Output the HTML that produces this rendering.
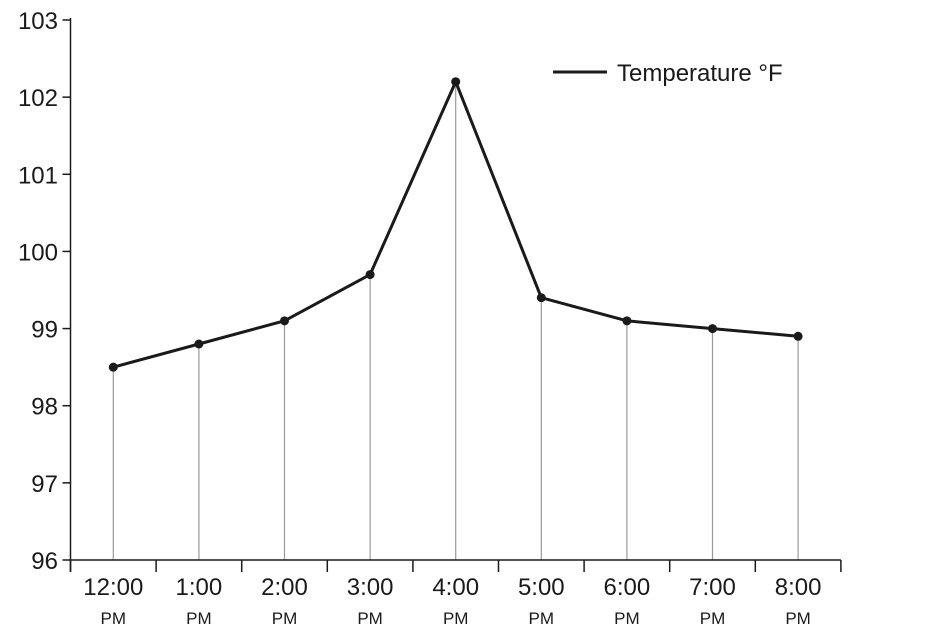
<!DOCTYPE html>
<html><head><meta charset="utf-8"><style>
body{margin:0;background:#fff;font-family:"Liberation Sans",sans-serif}
svg{display:block}
</style></head><body>
<svg width="928" height="630" id="c">
<g id="grid"></g><g id="axes"></g><g id="series"></g>
<g>
<line x1="553" y1="72" x2="607" y2="72" stroke="#1a1a1a" stroke-width="3"/>
<text x="617" y="81" font-size="24" fill="#1a1a1a">Temperature °F</text>
</g>
</svg>
<script>
const categories=["12:00","1:00","2:00","3:00","4:00","5:00","6:00","7:00","8:00"];
const temps=[98.5,98.8,99.1,99.7,102.2,99.4,99.1,99.0,98.9];
const yTicks=[96,97,98,99,100,101,102,103];
const NS="http://www.w3.org/2000/svg";
const x0=70.5,step=85.6,yMin=96,yMax=103,yTop=20,yBot=560;
const xPos=i=>x0+step*(i+0.5);
const yPos=v=>yBot-(v-yMin)/(yMax-yMin)*(yBot-yTop);
function mk(tag,attrs,parent){const e=document.createElementNS(NS,tag);for(const k in attrs)e.setAttribute(k,attrs[k]);parent.appendChild(e);return e;}
const grid=document.getElementById('grid'),axes=document.getElementById('axes'),series=document.getElementById('series');
categories.forEach((c,i)=>{
 const l=mk('line',{x1:xPos(i),x2:xPos(i),y1:yPos(temps[i]),y2:yBot,stroke:'#999','stroke-width':1.2},grid);
 
 
 const t=mk('text',{x:xPos(i),y:595,'font-size':24,'text-anchor':'middle',fill:'#1a1a1a'},axes);
 t.textContent=c;
 
 
 const p=mk('text',{x:xPos(i),y:624,'font-size':17,'text-anchor':'middle',fill:'#1a1a1a'},axes);
 p.textContent="PM";
 
 
});
for(let i=0;i<=categories.length;i++){
 const tk=mk('line',{x1:x0+step*i,x2:x0+step*i,y1:yBot,y2:yBot+12,stroke:'#1a1a1a','stroke-width':1.5},axes);
 
 
}
const xa=mk('line',{x1:x0,x2:x0+step*categories.length,y1:yBot,y2:yBot,stroke:'#1a1a1a','stroke-width':1.5},axes);


const ya=mk('line',{x1:x0,x2:x0,y1:yTop-2,y2:yBot+12,stroke:'#1a1a1a','stroke-width':1.5},axes);


yTicks.forEach(v=>{
 const tk=mk('line',{x1:x0-8,x2:x0,y1:yPos(v),y2:yPos(v),stroke:'#1a1a1a','stroke-width':1.5},axes);
 
 
 const t=mk('text',{x:58,y:yPos(v)+9,'font-size':24,'text-anchor':'end',fill:'#1a1a1a'},axes);
 t.textContent=v;
 
 
});
const pl=mk('polyline',{points:temps.map((v,i)=>xPos(i)+','+yPos(v)).join(' '),fill:'none',stroke:'#1a1a1a','stroke-width':3,'stroke-linejoin':'round'},series);


temps.forEach((v,i)=>{
 const c=mk('circle',{cx:xPos(i),cy:yPos(v),r:4.5,fill:'#1a1a1a'},series);
 
 
});
</script>
</body></html>
